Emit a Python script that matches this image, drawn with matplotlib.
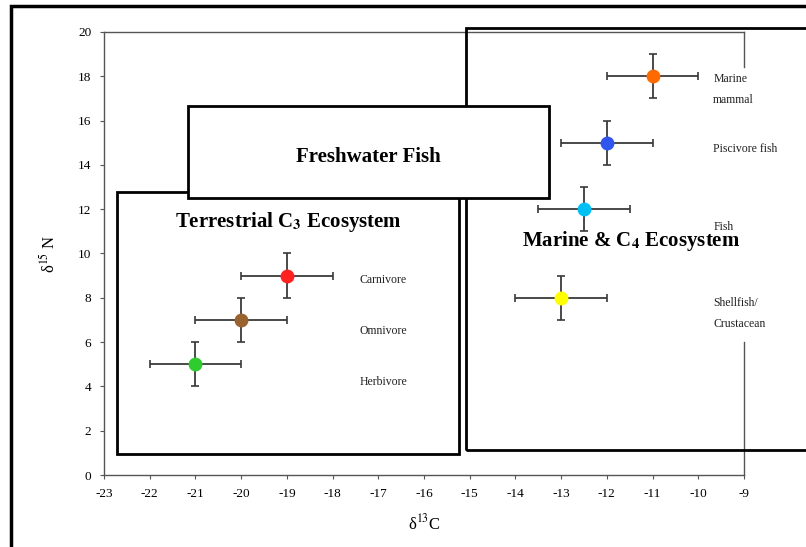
import matplotlib.pyplot as plt
from matplotlib.patches import Rectangle

plt.rcParams['font.family'] = ['Liberation Serif', 'DejaVu Serif']
plt.rcParams['mathtext.fontset'] = 'stix'
plt.rcParams['axes.unicode_minus'] = False

# mean isotope values with +/- 1 spread
groups = ['Marine mammal', 'Piscivore fish', 'Fish', 'Shellfish/Crustacean',
          'Carnivore', 'Omnivore', 'Herbivore']
d13c = [-11, -12, -12.5, -13, -19, -20, -21]
d15n = [18, 15, 12, 8, 9, 7, 5]
xerr = [1, 1, 1, 1, 1, 1, 1]
yerr = [1, 1, 1, 1, 1, 1, 1]
colors = ['#ff6a00', '#2f55ee', '#00bff5', '#ffff00', '#ff2020', '#99622e', '#2ecc2e']

# label anchors next to each point
lab_x = [-9.67, -9.67, -9.67, -9.67, -17.4, -17.4, -17.4]
lab_y = [17.4, 14.7, 11.2, 7.3, 8.8, 6.5, 4.2]
lab_txt = ['Marine\nmammal', 'Piscivore fish', 'Fish', 'Shellfish/\nCrustacean',
           'Carnivore', 'Omnivore', 'Herbivore']

xticks = list(range(-23, -8))
yticks = list(range(0, 21, 2))

fig = plt.figure(figsize=(8.06, 5.47), dpi=100)
ax = fig.add_axes([0.129, 0.1316, 0.794, 0.81])

for x, y, ex, ey, c in zip(d13c, d15n, xerr, yerr, colors):
    ax.errorbar(x, y, xerr=ex, yerr=ey, fmt='none', ecolor='#3a3a3a',
                elinewidth=1.3, capsize=3, capthick=1.2, zorder=2)
    ax.plot(x, y, 'o', color=c, markersize=10, markeredgewidth=0, zorder=3)

for x, y, t in zip(lab_x, lab_y, lab_txt):
    ax.text(x, y, t, fontsize=8.5, va='center', ha='left', color='#222222',
            linespacing=2.0)

ax.set_xlim(-23, -9)
ax.set_ylim(0, 20)
ax.set_xticks(xticks)
ax.set_yticks(yticks)
ax.tick_params(labelsize=9.5, length=3, width=0.8, color='#555555', pad=6)
for s in ['left', 'bottom', 'top']:
    ax.spines[s].set_color('#555555')
    ax.spines[s].set_linewidth(1.0)
ax.spines['right'].set_visible(False)
ax.axvline(-9, ymin=0.92, ymax=1.0, color='#555555', lw=1.0, clip_on=False)
ax.axvline(-9, ymin=0.0, ymax=0.30, color='#555555', lw=1.0, clip_on=False)

ax.set_xlabel('δ$^{13}$C', fontsize=12, labelpad=10)
ax.set_ylabel('δ$^{15}$ N', fontsize=12, labelpad=14)

# overlaid grouping boxes (figure pixel units)
W, H = 806, 547


def fbox(x0, y0, x1, y1, lw=2.0):
    r = Rectangle((x0 / W, 1 - y1 / H), (x1 - x0) / W, (y1 - y0) / H,
                  transform=fig.transFigure, fill=True, facecolor='none',
                  edgecolor='black', lw=lw, clip_on=False)
    fig.patches.append(r)


fbox(11, 6, 830, 570, lw=2.5)
fbox(466, 28, 830, 450)
fbox(117, 192, 459, 454)
fig.patches.append(Rectangle((188 / W, 1 - 198 / H), 361 / W, 92 / H,
                             transform=fig.transFigure, facecolor='white',
                             edgecolor='black', lw=2.0, zorder=5))

fig.text(368 / W, 1 - 157 / H, 'Freshwater Fish', fontsize=15,
         fontweight='bold', ha='center', va='center', zorder=6)
fig.text(288 / W, 1 - 222 / H, r'Terrestrial C$_\mathbf{3}$ Ecosystem',
         fontsize=15, fontweight='bold', ha='center', va='center')
fig.text(631 / W, 1 - 241 / H, r'Marine & C$_\mathbf{4}$ Ecosystem',
         fontsize=15, fontweight='bold', ha='center', va='center')

fig.savefig('out.png', dpi=100)
